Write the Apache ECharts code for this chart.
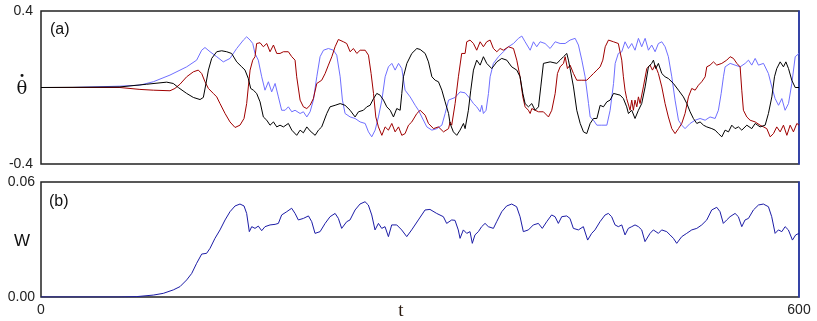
<!DOCTYPE html>
<html>
<head>
<meta charset="utf-8">
<script src="https://cdn.jsdelivr.net/npm/echarts@6/dist/echarts.min.js"></script>
<style>
  html, body { margin: 0; padding: 0; background: #fff; }
  #chart { width: 817px; height: 321px; }
</style>
</head>
<body>
<div id="chart"></div>
<script>
// panel (a): theta-dot traces, [t, value]
const blueA = [[0,0],[25,0],[62.5,0.007],[78,0.012],[88.9,0.030],[102.1,0.065],[115.3,0.108],[123.2,0.143],[127.2,0.195],[129.8,0.209],[133.8,0.187],[139.1,0.161],[144.3,0.134],[149.6,0.152],[154.9,0.204],[160.2,0.248],[162.8,0.265],[165.5,0.248],[167.6,0.230],[169.4,0.178],[172,0.143],[174.7,0.056],[177.3,-0.014],[180,0.030],[182.6,-0.023],[185.3,0.021],[187.9,-0.049],[190.5,-0.119],
  [193.2,-0.119],[195.8,-0.101],[198.5,-0.127],[201.1,-0.119],[205.1,-0.136],[207.7,-0.127],[210.4,-0.154],[213,-0.127],[215.6,-0.066],[218.3,0.056],[220.9,0.161],[223.6,0.195],[227.5,0.204],[231.5,0.195],[234.1,0.169],[236.8,0.056],[238.6,-0.066],[240.7,-0.136],[244.7,-0.154],[248.6,-0.162],[252.6,-0.180],[256.6,-0.188],[259.2,-0.232],[261.8,-0.258],[264.5,-0.223],[267.1,-0.154],[269.8,-0.066],[272.4,0.056],[275,0.108],[277.7,0.126],[280.3,0.091],[283,0.126],[285.6,0.099],[288.2,-0.014],[292.2,-0.049],[296.2,-0.093],[298.8,-0.119],[301.4,-0.154],[305.4,-0.206],[309.4,-0.223],[313.3,-0.215],[317.3,-0.197],[319.9,-0.136],[322.6,-0.066],
  [327.8,-0.052],[331.7,-0.023],[335.7,-0.028],[339.6,-0.058],[342.3,-0.084],[344.9,-0.101],[347.6,-0.127],[348.9,-0.093],[350.2,-0.136],[352.3,-0.119],[354.2,-0.031],[355.5,0.056],[358.1,0.126],[362.1,0.161],[366,0.187],[370,0.213],[374,0.230],[377.9,0.257],[380.6,0.269],[383.2,0.239],[387.2,0.195],[389.8,0.239],[392.4,0.213],[395.1,0.239],[399,0.230],[403,0.204],[407,0.239],[410.9,0.230],[414.9,0.230],[418.8,0.248],[422.8,0.257],[425.4,0.222],[428.1,0.143],[430.7,0.056],[433.4,-0.084],[434.7,-0.154],[437.3,-0.171],[440,-0.197],[443.9,-0.197],[447.9,-0.197],[450.5,-0.119],[453.2,0.021],[454.5,0.126],
  [457,0.178],[459.7,0.187],[462.3,0.239],[465,0.204],[467.6,0.230],[470.2,0.195],[472.9,0.257],[475.5,0.213],[478.2,0.257],[480.8,0.195],[483.4,0.222],[486.1,0.187],[488.7,0.230],[491.4,0.239],[494,0.213],[496.6,0.161],[499.3,0.056],[501.9,-0.066],[504.6,-0.171],[507.2,-0.197],[509.8,-0.215],[513.8,-0.188],[517.8,-0.171],[521.7,-0.162],[525.7,-0.171],[529.6,-0.154],[533.6,-0.162],[536.2,-0.119],[538.4,-0.031],[540.2,0.056],[541.5,0.108],[545.5,0.126],[549.4,0.117],[553.4,0.108],[557.4,0.126],[560,0.143],[562.6,0.117],[565.3,0.152],[567.9,0.117],[571.9,0.126],[575.8,0.073],[578.5,0.003],[581.1,-0.058],[583.8,-0.093],[586.4,-0.058],[589,-0.119],[591.7,-0.084],[594.3,0.021],[597,0.161],[600,0.178]];

const redA = [[0,0],[62.5,0],[78.3,-0.010],[88.9,-0.014],[102.1,-0.017],[106,-0.005],[110,0.017],[115.3,0.056],[120.6,0.082],[124.5,0.091],[127.2,0.073],[129.8,0.030],[132.5,-0.005],[136.4,-0.031],[139.1,-0.049],[141.7,-0.084],[145.7,-0.136],[149.6,-0.180],[153.6,-0.209],[157.5,-0.197],[160.7,-0.162],[162.8,-0.084],[164.1,0.003],[165.5,0.091],[167.6,0.143],[169.4,0.161],[170.7,0.230],[173.4,0.234],[176,0.213],[178.7,0.230],[181.3,0.187],[184,0.222],[186.6,0.178],[189.2,0.178],[191.9,0.187],
  [193.2,0.178],[195.8,0.187],[198.5,0.161],[201.1,0.143],[202.4,0.056],[205.1,-0.066],[207.7,-0.101],[210.4,-0.110],[213,-0.093],[215.6,-0.058],[218.3,0.021],[222.2,0.038],[224.9,0.073],[227.5,0.117],[230.2,0.161],[232.8,0.213],[235.4,0.251],[239.4,0.239],[242,0.230],[244.7,0.187],[247.3,0.204],[250,0.178],[252.6,0.195],[256.6,0.195],[259.2,0.169],[261.3,0.073],[263.2,-0.031],[265,-0.154],[267.1,-0.206],[269.8,-0.250],[272.4,-0.206],[275,-0.223],[277.7,-0.188],[280.3,-0.232],[283,-0.206],[285.6,-0.250],[288.2,-0.241],[290.9,-0.197],[293.5,-0.180],[297.5,-0.136],[300.1,-0.119],[304.1,-0.145],[306.7,-0.188],[310.7,-0.215],[314.6,-0.206],[318.6,-0.232],[322.6,-0.215],
  [323.8,-0.180],[325.1,-0.197],[327.8,-0.084],[330.4,0.056],[333,0.178],[335.7,0.178],[337,0.239],[339.6,0.248],[342.3,0.230],[344.9,0.195],[347.6,0.239],[350.2,0.213],[352.8,0.239],[355.5,0.248],[358.1,0.204],[360.8,0.187],[363.4,0.204],[366,0.195],[370,0.213],[374,0.204],[376.6,0.143],[379.2,0.056],[381.4,-0.049],[383.2,-0.101],[385.8,-0.119],[387.2,-0.136],[388.5,-0.110],[391.1,-0.119],[393.8,-0.127],[397.7,-0.127],[401.7,-0.154],[404.3,-0.119],[407,-0.031],[408.8,0.073],[410.9,0.108],[413.6,0.126],[414.9,0.161],[416.7,0.099],[418.8,0.117],[421.5,0.073],[424.1,0.038],[428.1,0.038],[432,0.038],[434.7,0.056],[437.3,0.073],[440,0.091],[442.6,0.108],[444.7,0.143],[446.6,0.213],[449.2,0.248],[453.2,0.239],
  [454.4,0.239],[457,0.230],[458.4,0.222],[459.7,0.143],[461,0.056],[462.3,-0.014],[463.6,-0.058],[466.3,-0.119],[467.6,-0.066],[468.9,-0.119],[470.2,-0.066],[471.6,-0.101],[472.9,-0.049],[474.2,-0.084],[476.8,0.003],[479.5,0.099],[482.1,0.117],[484,0.091],[486.1,0.117],[488.7,0.073],[491.4,0.003],[494,-0.084],[496.6,-0.154],[499.3,-0.215],[501.9,-0.241],[504.6,-0.215],[507.2,-0.188],[509.8,-0.136],[512.5,-0.049],[515.1,-0.005],[517.8,-0.014],[520.4,0.012],[523,0.030],[525.7,0.056],[527,0.108],[529.6,0.117],[532.3,0.134],[534.9,0.117],[538.9,0.126],[542.8,0.143],[545.5,0.161],[548.1,0.152],[550.8,0.126],[553.4,0.108],[554.7,-0.014],[556,-0.119],[558.7,-0.154],[561.3,-0.171],[565.3,-0.180],[569.2,-0.197],[571.9,-0.206],[574.5,-0.215],[577.2,-0.258],[579.8,-0.241],[582.4,-0.206],[585.1,-0.232],[587.7,-0.197],[590.4,-0.250],[593,-0.197],[595.6,-0.232],[598.3,-0.188],[600,-0.197]];

const blackA = [[0,0],[62.5,0.003],[83.6,0.017],[99.5,0.028],[104.7,0.021],[108.7,0],[115.3,-0.031],[120.6,-0.052],[125.9,-0.063],[128.5,-0.052],[130.6,0.021],[132.5,0.091],[135.1,0.152],[139.1,0.187],[143,0.192],[147,0.187],[150.9,0.178],[154.9,0.134],[158.9,0.108],[161.5,0.091],[164.1,0.047],[166,-0.005],[168.1,-0.014],[170.7,-0.031],[173.4,-0.075],[176,-0.154],[178.7,-0.171],[181.3,-0.197],[184,-0.180],[186.6,-0.206],[189.2,-0.197],[191.9,-0.206],
  [193.2,-0.206],[195.8,-0.188],[198.5,-0.223],[202.4,-0.250],[205.1,-0.223],[207.7,-0.237],[210.4,-0.206],[213,-0.227],[217,-0.250],[219.6,-0.223],[222.2,-0.206],[226.2,-0.136],[228.8,-0.101],[232.8,-0.093],[236.8,-0.084],[240.7,-0.093],[244.7,-0.119],[248.6,-0.154],[251.3,-0.127],[255.2,-0.119],[257.9,-0.101],[260.5,-0.093],[263.2,-0.058],[265.8,-0.031],[268.4,-0.040],[271.1,-0.066],[273.7,-0.101],[276.4,-0.119],[279,-0.154],[281.6,-0.110],[284.3,-0.119],[285.6,-0.031],[286.9,0.056],[289.6,0.126],[293.5,0.178],[297.5,0.204],[300.1,0.199],[304.1,0.178],[306.7,0.134],[309.4,0.056],[312,0.038],[314.6,0.030],[317.3,-0.014],[319.9,-0.075],[322.6,-0.136],
  [323.8,-0.188],[326.4,-0.232],[329.1,-0.250],[331.7,-0.223],[334.4,-0.188],[335.7,-0.215],[338.3,-0.119],[340.2,-0.014],[342.3,0.091],[344.9,0.143],[347.6,0.117],[350.2,0.161],[352.8,0.126],[356.8,0.099],[360.8,0.134],[364.7,0.152],[368.7,0.143],[372.6,0.108],[376.6,0.091],[379.2,0.056],[381.4,-0.031],[383.2,-0.084],[385.8,-0.101],[388.5,-0.084],[391.1,-0.119],[393.8,-0.101],[395.6,0.003],[397.7,0.126],[403,0.134],[408.3,0.126],[410.9,0.143],[413.6,0.161],[416.2,0.178],[417.5,0.143],[418.8,0.099],[421.5,0.003],[424.1,-0.119],[426.8,-0.188],[429.4,-0.232],[432,-0.241],[434.7,-0.188],[437.3,-0.162],[440,-0.162],[442.6,-0.093],[445.2,-0.101],[447.9,-0.075],[450.5,-0.066],[453.2,-0.031],
  [458.4,-0.040],[461,-0.058],[463.6,-0.101],[465,-0.136],[467.6,-0.119],[470.2,-0.162],[472.9,-0.119],[475.5,-0.084],[478.2,0.003],[480.8,0.108],[483.4,0.126],[484.8,0.143],[486.6,0.099],[488.7,0.126],[491.4,0.073],[494,0.056],[496.6,0.047],[500.6,0.021],[504.6,-0.014],[508.5,-0.049],[511.2,-0.084],[513.8,-0.127],[516.4,-0.162],[519.1,-0.188],[521.7,-0.180],[524.4,-0.197],[527,-0.206],[531,-0.215],[533.6,-0.223],[536.2,-0.241],[538.9,-0.258],[541.5,-0.223],[544.2,-0.232],[546.8,-0.197],[549.4,-0.215],[552.1,-0.206],[554.7,-0.223],[558.7,-0.197],[562.6,-0.215],[565.3,-0.188],[569.2,-0.206],[573.2,-0.197],[575.8,-0.136],[578.5,-0.049],[580.6,0.056],[582.4,0.099],[585.1,0.134],[587.7,0.108],[589.6,0.134],[591.7,0.099],[594.3,0.038],[597,0],[600,0]];

// panel (b): W
const wB = [[0,0],[62.5,0],[75.7,0.0002],[88.9,0.0010],[96.8,0.0019],[104.7,0.0037],[110,0.0054],[115.3,0.0089],[119.3,0.0123],[123.2,0.0176],[127.2,0.0224],[131.1,0.0228],[133.8,0.0254],[137.7,0.0306],[141.7,0.0350],[145.7,0.0402],[149.6,0.0445],[153.6,0.0475],[157.5,0.0485],[160.7,0.0475],[162.8,0.0436],[164.9,0.0341],[166.8,0.0367],[169.4,0.0358],[172,0.0370],[174.7,0.0346],[177.3,0.0367],[181.3,0.0376],[185.3,0.0379],[187.9,0.0384],[190.5,0.0428],[194.5,0.0445],[198.4,0.0463],[201.1,0.0436],[203.7,0.0402],[207.7,0.0410],[211.7,0.0423],[214.3,0.0393],[216.9,0.0332],[220.9,0.0341],[224.9,0.0384],[228.8,0.0419],[232.8,0.0436],[235.4,0.0410],[238,0.0358],[242,0.0393],[244.6,0.0402],[248.6,0.0454],[252.5,0.0485],[256.5,0.0497],[259.1,0.0480],[261.8,0.0428],[264.4,0.0350],[267.1,0.0384],[269.7,0.0358],[272.3,0.0367],[275,0.0315],[277.6,0.0376],[281.6,0.0376],[285.5,0.0350],[289.5,0.0315],[293.4,0.0350],[298.7,0.0402],[304,0.0454],[307.9,0.0457],[313.2,0.0436],[318.5,0.0419],[321.1,0.0384],[325.1,0.0402],
  [327.7,0.0400],[330.3,0.0350],[331.7,0.0306],[334.3,0.0350],[337,0.0332],[339.6,0.0341],[341.4,0.0280],[343.5,0.0324],[346.2,0.0341],[348.8,0.0367],[351.5,0.0384],[354.1,0.0367],[358.1,0.0358],[360.7,0.0393],[364.7,0.0445],[368.6,0.0475],[372.6,0.0485],[376.5,0.0471],[379.2,0.0419],[381.8,0.0341],[385.8,0.0350],[389.7,0.0376],[393.7,0.0384],[396.8,0.0358],[400.3,0.0393],[404.2,0.0428],[406.9,0.0419],[409.5,0.0384],[412.2,0.0419],[416.1,0.0423],[418.7,0.0410],[421.4,0.0358],[425.4,0.0350],[429.3,0.0367],[432.7,0.0297],[435.9,0.0332],[438.5,0.0350],[442.5,0.0393],[446.5,0.0428],[449.1,0.0436],[451.7,0.0419],[454.4,0.0376],[457,0.0367],[459.7,0.0376],[462.3,0.0324],[464.9,0.0358],[467.6,0.0367],[470.2,0.0376],[472.9,0.0367],[475.5,0.0350],[478.1,0.0289],[482.1,0.0332],[484.7,0.0350],[488.7,0.0332],[491.3,0.0350],[495.3,0.0341],[497.9,0.0324],[500.6,0.0306],[503.2,0.0280],[507.2,0.0315],[511.1,0.0332],[515.1,0.0350],[519.1,0.0358],[523,0.0376],[527,0.0402],[530.9,0.0454],[534.9,0.0468],[537.5,0.0445],[540.1,0.0384],[542.8,0.0402],[545.4,0.0419],[549.4,0.0436],[552,0.0419],[554.7,0.0367],[557.3,0.0402],[560,0.0410],[563.9,0.0454],[567.9,0.0480],[571.8,0.0485],[575.8,0.0471],[578.4,0.0419],[581.1,0.0332],[583.7,0.0350],[586.4,0.0341],[589,0.0367],[591.6,0.0350],[594.8,0.0297],[597.4,0.0324],[600,0.0332]];

const tRange = [0, 600];
const thetaRange = [-0.4, 0.4];
const wRange = [0, 0.06];

const chart = echarts.init(document.getElementById('chart'));

const labelStyle = { color: '#222', fontSize: 14, fontFamily: 'Liberation Sans, Arial, sans-serif' };
const frame = { show: true, borderColor: '#222', borderWidth: 1.5, backgroundColor: '#fff' };

function lineSeries(data, color, xi, yi) {
  return {
    type: 'line', data: data, xAxisIndex: xi, yAxisIndex: yi,
    showSymbol: false, symbol: 'none', smooth: false,
    lineStyle: { color: color, width: 1 }, animation: false
  };
}

const option = {
  animation: false,
  grid: [
    Object.assign({ left: 41, right: 18, top: 11, height: 153 }, frame),
    Object.assign({ left: 41, right: 18, top: 182, height: 115 }, frame)
  ],
  xAxis: [
    { type: 'value', gridIndex: 0, min: tRange[0], max: tRange[1],
      axisLine: { show: false }, axisTick: { show: false }, axisLabel: { show: false }, splitLine: { show: false } },
    { type: 'value', gridIndex: 1, min: tRange[0], max: tRange[1], interval: 600,
      axisLine: { show: false }, axisTick: { show: false }, splitLine: { show: false },
      axisLabel: Object.assign({ margin: 6 }, labelStyle) }
  ],
  yAxis: [
    { type: 'value', gridIndex: 0, min: thetaRange[0], max: thetaRange[1], interval: 0.4,
      axisLine: { show: false }, axisTick: { show: false }, splitLine: { show: false },
      axisLabel: Object.assign({ margin: 8, formatter: v => (Math.abs(v) < 1e-9 ? '' : v.toFixed(1)) }, labelStyle) },
    { type: 'value', gridIndex: 1, min: wRange[0], max: wRange[1], interval: 0.06,
      axisLine: { show: false }, axisTick: { show: false }, splitLine: { show: false },
      axisLabel: Object.assign({ margin: 6, formatter: v => v.toFixed(2) }, labelStyle) },
    { type: 'value', gridIndex: 0, position: 'right', min: thetaRange[0], max: thetaRange[1],
      axisLine: { show: true, lineStyle: { color: '#2a3ec0', width: 1.5 } },
      axisTick: { show: false }, axisLabel: { show: false }, splitLine: { show: false } },
    { type: 'value', gridIndex: 1, position: 'right', min: wRange[0], max: wRange[1],
      axisLine: { show: true, lineStyle: { color: '#2a3ec0', width: 1.5 } },
      axisTick: { show: false }, axisLabel: { show: false }, splitLine: { show: false } }
  ],
  series: [
    lineSeries(blueA, '#6f6fff', 0, 0),
    lineSeries(redA, '#a00000', 0, 0),
    lineSeries(blackA, '#000000', 0, 0),
    lineSeries(wB, '#1c1ca6', 1, 1)
  ],
  graphic: [
    { type: 'text', x: 50, y: 30, style: { text: '(a)', font: '16px "Liberation Sans", Arial, sans-serif', fill: '#111', textVerticalAlign: 'middle' } },
    { type: 'text', x: 49, y: 202, style: { text: '(b)', font: '16px "Liberation Sans", Arial, sans-serif', fill: '#111', textVerticalAlign: 'middle' } },
    { type: 'text', x: 22, y: 89, style: { text: 'θ', font: '18px "DejaVu Serif", serif', fill: '#111', textAlign: 'center', textVerticalAlign: 'middle' } },
    { type: 'text', x: 22, y: 77, style: { text: '·', font: 'bold 16px "DejaVu Serif", serif', fill: '#111', textAlign: 'center', textVerticalAlign: 'middle' } },
    { type: 'text', x: 22, y: 241, style: { text: 'W', font: '17px "Liberation Sans", Arial, sans-serif', fill: '#111', textAlign: 'center', textVerticalAlign: 'middle' } },
    { type: 'text', x: 401, y: 311, style: { text: 't', font: '19px "Liberation Serif", serif', fill: '#2a1a10', textAlign: 'center', textVerticalAlign: 'middle' } }
  ]
};

chart.setOption(option);
</script>
</body>
</html>
